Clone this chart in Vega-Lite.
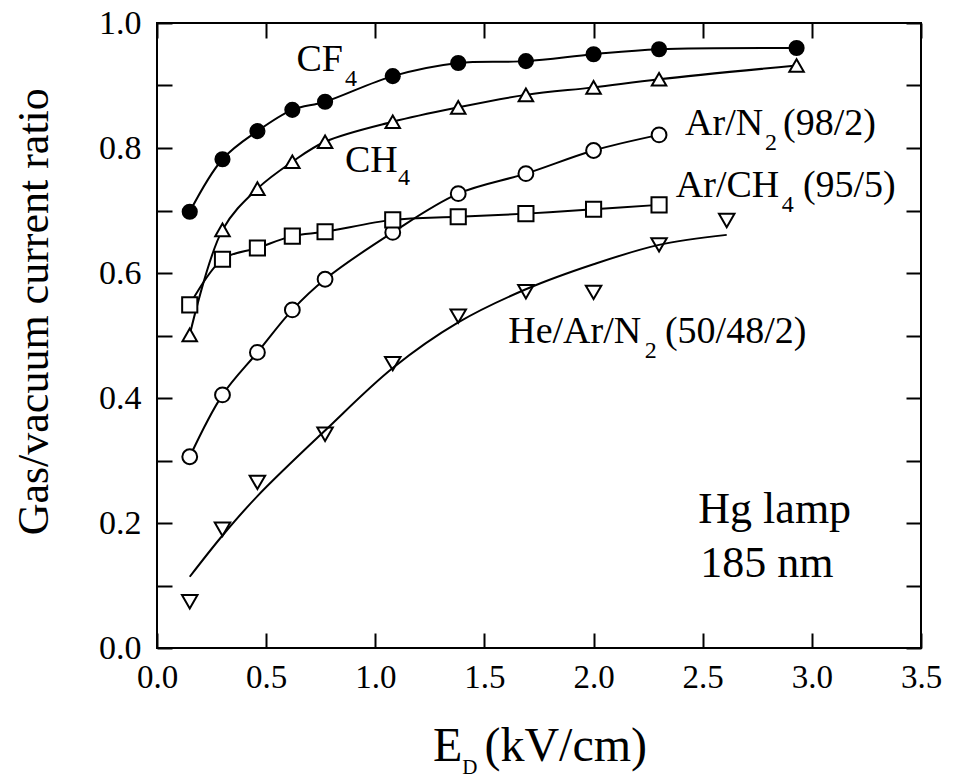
{
  "$schema": "https://vega.github.io/schema/vega-lite/v6.json",
  "width": 764,
  "height": 625,
  "autosize": {"type": "none"},
  "padding": {"left": 157, "top": 23, "right": 37, "bottom": 130},
  "background": "white",
  "config": {
    "view": {"stroke": "black", "strokeWidth": 2},
    "font": "Liberation Serif",
    "text": {"font": "Liberation Serif", "color": "black"}
  },
  "datasets": {
    "points": [
      {"series": "CF4", "E": 0.15, "ratio": 0.698},
      {"series": "CF4", "E": 0.30, "ratio": 0.782},
      {"series": "CF4", "E": 0.46, "ratio": 0.827},
      {"series": "CF4", "E": 0.62, "ratio": 0.861},
      {"series": "CF4", "E": 0.77, "ratio": 0.874},
      {"series": "CF4", "E": 1.08, "ratio": 0.915},
      {"series": "CF4", "E": 1.38, "ratio": 0.936},
      {"series": "CF4", "E": 1.69, "ratio": 0.939},
      {"series": "CF4", "E": 2.00, "ratio": 0.950},
      {"series": "CF4", "E": 2.30, "ratio": 0.958},
      {"series": "CF4", "E": 2.93, "ratio": 0.960},
      {"series": "CH4", "E": 0.15, "ratio": 0.501},
      {"series": "CH4", "E": 0.30, "ratio": 0.669},
      {"series": "CH4", "E": 0.46, "ratio": 0.735},
      {"series": "CH4", "E": 0.62, "ratio": 0.778},
      {"series": "CH4", "E": 0.77, "ratio": 0.810},
      {"series": "CH4", "E": 1.08, "ratio": 0.842},
      {"series": "CH4", "E": 1.38, "ratio": 0.865},
      {"series": "CH4", "E": 1.69, "ratio": 0.885},
      {"series": "CH4", "E": 2.00, "ratio": 0.897},
      {"series": "CH4", "E": 2.30, "ratio": 0.910},
      {"series": "CH4", "E": 2.93, "ratio": 0.932},
      {"series": "Ar/N2 (98/2)", "E": 0.15, "ratio": 0.306},
      {"series": "Ar/N2 (98/2)", "E": 0.30, "ratio": 0.405},
      {"series": "Ar/N2 (98/2)", "E": 0.46, "ratio": 0.473},
      {"series": "Ar/N2 (98/2)", "E": 0.62, "ratio": 0.541},
      {"series": "Ar/N2 (98/2)", "E": 0.77, "ratio": 0.590},
      {"series": "Ar/N2 (98/2)", "E": 1.08, "ratio": 0.665},
      {"series": "Ar/N2 (98/2)", "E": 1.38, "ratio": 0.727},
      {"series": "Ar/N2 (98/2)", "E": 1.69, "ratio": 0.759},
      {"series": "Ar/N2 (98/2)", "E": 2.00, "ratio": 0.796},
      {"series": "Ar/N2 (98/2)", "E": 2.30, "ratio": 0.821},
      {"series": "Ar/CH4 (95/5)", "E": 0.15, "ratio": 0.549},
      {"series": "Ar/CH4 (95/5)", "E": 0.30, "ratio": 0.622},
      {"series": "Ar/CH4 (95/5)", "E": 0.46, "ratio": 0.640},
      {"series": "Ar/CH4 (95/5)", "E": 0.62, "ratio": 0.659},
      {"series": "Ar/CH4 (95/5)", "E": 0.77, "ratio": 0.666},
      {"series": "Ar/CH4 (95/5)", "E": 1.08, "ratio": 0.685},
      {"series": "Ar/CH4 (95/5)", "E": 1.38, "ratio": 0.690},
      {"series": "Ar/CH4 (95/5)", "E": 1.69, "ratio": 0.695},
      {"series": "Ar/CH4 (95/5)", "E": 2.00, "ratio": 0.702},
      {"series": "Ar/CH4 (95/5)", "E": 2.30, "ratio": 0.709},
      {"series": "He/Ar/N2 (50/48/2)", "E": 0.15, "ratio": 0.074},
      {"series": "He/Ar/N2 (50/48/2)", "E": 0.30, "ratio": 0.190},
      {"series": "He/Ar/N2 (50/48/2)", "E": 0.46, "ratio": 0.265},
      {"series": "He/Ar/N2 (50/48/2)", "E": 0.77, "ratio": 0.342},
      {"series": "He/Ar/N2 (50/48/2)", "E": 1.08, "ratio": 0.455},
      {"series": "He/Ar/N2 (50/48/2)", "E": 1.38, "ratio": 0.531},
      {"series": "He/Ar/N2 (50/48/2)", "E": 1.69, "ratio": 0.570},
      {"series": "He/Ar/N2 (50/48/2)", "E": 2.00, "ratio": 0.569},
      {"series": "He/Ar/N2 (50/48/2)", "E": 2.30, "ratio": 0.645},
      {"series": "He/Ar/N2 (50/48/2)", "E": 2.61, "ratio": 0.684}
    ],
    "fit": [
      {"E": 0.15, "ratio": 0.114},
      {"E": 0.30, "ratio": 0.180},
      {"E": 0.46, "ratio": 0.243},
      {"E": 0.77, "ratio": 0.348},
      {"E": 1.08, "ratio": 0.448},
      {"E": 1.38, "ratio": 0.521},
      {"E": 1.69, "ratio": 0.574},
      {"E": 2.00, "ratio": 0.614},
      {"E": 2.30, "ratio": 0.645},
      {"E": 2.61, "ratio": 0.661}
    ]
  },
  "resolve": {"axis": {"x": "independent", "y": "independent"}},
  "layer": [
    {
      "data": {"name": "points"},
      "transform": [{"filter": "datum.series != 'He/Ar/N2 (50/48/2)'"}],
      "mark": {"type": "line", "stroke": "black", "strokeWidth": 2, "interpolate": "catmull-rom"},
      "encoding": {
        "x": {"field": "E", "type": "quantitative", "scale": {"domain": [0, 3.5], "nice": false},
          "axis": {"orient": "bottom", "values": [0, 0.5, 1, 1.5, 2, 2.5, 3, 3.5], "format": ".1f", "tickSize": -15, "tickWidth": 2, "tickColor": "black", "labelFontSize": 33, "labelFont": "Liberation Serif", "labelColor": "black", "labelPadding": 28, "grid": false, "domain": false, "title": null, "labelFlush": false, "labelOverlap": false}},
        "y": {"field": "ratio", "type": "quantitative", "scale": {"domain": [0, 1], "nice": false},
          "axis": {"orient": "left", "values": [0, 0.1, 0.2, 0.3, 0.4, 0.5, 0.6, 0.7, 0.8, 0.9, 1.0], "labelExpr": "round(datum.value*10) % 2 == 0 ? format(datum.value, '.1f') : ''", "tickSize": -15, "tickWidth": 2, "tickColor": "black", "labelFontSize": 34, "labelFont": "Liberation Serif", "labelColor": "black", "labelPadding": 31, "grid": false, "domain": false, "title": null, "labelFlush": false, "labelOverlap": false}},
        "detail": {"field": "series"}
      }
    },
    {
      "data": {"name": "fit"},
      "mark": {"type": "line", "stroke": "black", "strokeWidth": 2, "interpolate": "catmull-rom"},
      "encoding": {
        "x": {"field": "E", "type": "quantitative", "scale": {"domain": [0, 3.5], "nice": false},
          "axis": {"orient": "top", "values": [0, 0.5, 1, 1.5, 2, 2.5, 3, 3.5], "labels": false, "tickSize": -15, "tickWidth": 2, "tickColor": "black", "grid": false, "domain": false, "title": null}},
        "y": {"field": "ratio", "type": "quantitative", "scale": {"domain": [0, 1], "nice": false},
          "axis": {"orient": "right", "values": [0, 0.1, 0.2, 0.3, 0.4, 0.5, 0.6, 0.7, 0.8, 0.9, 1.0], "labels": false, "tickSize": -15, "tickWidth": 2, "tickColor": "black", "grid": false, "domain": false, "title": null}}
      }
    },
    {
      "data": {"name": "points"},
      "mark": {"type": "point", "stroke": "black", "strokeWidth": 2, "opacity": 1, "fillOpacity": 1},
      "encoding": {
        "x": {"field": "E", "type": "quantitative", "scale": {"domain": [0, 3.5], "nice": false}, "axis": null},
        "y": {"field": "ratio", "type": "quantitative", "scale": {"domain": [0, 1], "nice": false}, "axis": null},
        "shape": {"field": "series", "type": "nominal", "legend": null,
          "scale": {"domain": ["CF4", "CH4", "Ar/N2 (98/2)", "Ar/CH4 (95/5)", "He/Ar/N2 (50/48/2)"], "range": ["circle", "triangle-up", "circle", "square", "triangle-down"]}},
        "fill": {"field": "series", "type": "nominal", "legend": null,
          "scale": {"domain": ["CF4", "CH4", "Ar/N2 (98/2)", "Ar/CH4 (95/5)", "He/Ar/N2 (50/48/2)"], "range": ["black", "white", "white", "white", "transparent"]}},
        "size": {"field": "series", "type": "nominal", "legend": null,
          "scale": {"domain": ["CF4", "CH4", "Ar/N2 (98/2)", "Ar/CH4 (95/5)", "He/Ar/N2 (50/48/2)"], "range": [200, 240, 200, 130, 240]}}
      }
    },
    {
      "data": {"values": [
        {"E": 0.639, "ratio": 0.923, "label": "CF"},
        {"E": 0.861, "ratio": 0.762, "label": "CH"},
        {"E": 2.419, "ratio": 0.821, "label": "Ar/N"},
        {"E": 2.868, "ratio": 0.821, "label": "(98/2)"},
        {"E": 2.377, "ratio": 0.722, "label": "Ar/CH"},
        {"E": 2.959, "ratio": 0.722, "label": "(95/5)"},
        {"E": 1.609, "ratio": 0.4875, "label": "He/Ar/N"},
        {"E": 2.327, "ratio": 0.4875, "label": "(50/48/2)"}
      ]},
      "mark": {"type": "text", "fontSize": 38, "align": "left", "baseline": "alphabetic", "font": "Liberation Serif", "color": "black"},
      "encoding": {
        "x": {"field": "E", "type": "quantitative", "scale": {"domain": [0, 3.5], "nice": false}, "axis": null},
        "y": {"field": "ratio", "type": "quantitative", "scale": {"domain": [0, 1], "nice": false}, "axis": null},
        "text": {"field": "label"}
      }
    },
    {
      "data": {"values": [
        {"E": 0.861, "ratio": 0.899, "label": "4"},
        {"E": 1.104, "ratio": 0.741, "label": "4"},
        {"E": 2.785, "ratio": 0.797, "label": "2"},
        {"E": 2.862, "ratio": 0.698, "label": "4"},
        {"E": 2.235, "ratio": 0.464, "label": "2"}
      ]},
      "mark": {"type": "text", "fontSize": 24, "align": "left", "baseline": "alphabetic", "font": "Liberation Serif", "color": "black"},
      "encoding": {
        "x": {"field": "E", "type": "quantitative", "scale": {"domain": [0, 3.5], "nice": false}, "axis": null},
        "y": {"field": "ratio", "type": "quantitative", "scale": {"domain": [0, 1], "nice": false}, "axis": null},
        "text": {"field": "label"}
      }
    },
    {
      "data": {"values": [
        {"E": 2.480, "ratio": 0.2005, "label": "Hg lamp"},
        {"E": 2.489, "ratio": 0.114, "label": "185 nm"}
      ]},
      "mark": {"type": "text", "fontSize": 44, "align": "left", "baseline": "alphabetic", "font": "Liberation Serif", "color": "black"},
      "encoding": {
        "x": {"field": "E", "type": "quantitative", "scale": {"domain": [0, 3.5], "nice": false}, "axis": null},
        "y": {"field": "ratio", "type": "quantitative", "scale": {"domain": [0, 1], "nice": false}, "axis": null},
        "text": {"field": "label"}
      }
    },
    {
      "data": {"values": [
        {"E": 1.264, "ratio": -0.180, "label": "E"},
        {"E": 1.500, "ratio": -0.180, "label": "(kV/cm)"}
      ]},
      "mark": {"type": "text", "fontSize": 48, "align": "left", "baseline": "alphabetic", "font": "Liberation Serif", "color": "black"},
      "encoding": {
        "x": {"field": "E", "type": "quantitative", "scale": {"domain": [0, 3.5], "nice": false}, "axis": null},
        "y": {"field": "ratio", "type": "quantitative", "scale": {"domain": [0, 1], "nice": false}, "axis": null},
        "text": {"field": "label"}
      }
    },
    {
      "data": {"values": [
        {"E": 1.398, "ratio": -0.201, "label": "D"}
      ]},
      "mark": {"type": "text", "fontSize": 21, "align": "left", "baseline": "alphabetic", "font": "Liberation Serif", "color": "black"},
      "encoding": {
        "x": {"field": "E", "type": "quantitative", "scale": {"domain": [0, 3.5], "nice": false}, "axis": null},
        "y": {"field": "ratio", "type": "quantitative", "scale": {"domain": [0, 1], "nice": false}, "axis": null},
        "text": {"field": "label"}
      }
    },
    {
      "data": {"values": [
        {"E": -0.499, "ratio": 0.538, "label": "Gas/vacuum current ratio"}
      ]},
      "mark": {"type": "text", "fontSize": 44, "angle": 270, "align": "center", "baseline": "alphabetic", "font": "Liberation Serif", "color": "black"},
      "encoding": {
        "x": {"field": "E", "type": "quantitative", "scale": {"domain": [0, 3.5], "nice": false}, "axis": null},
        "y": {"field": "ratio", "type": "quantitative", "scale": {"domain": [0, 1], "nice": false}, "axis": null},
        "text": {"field": "label"}
      }
    }
  ]
}
